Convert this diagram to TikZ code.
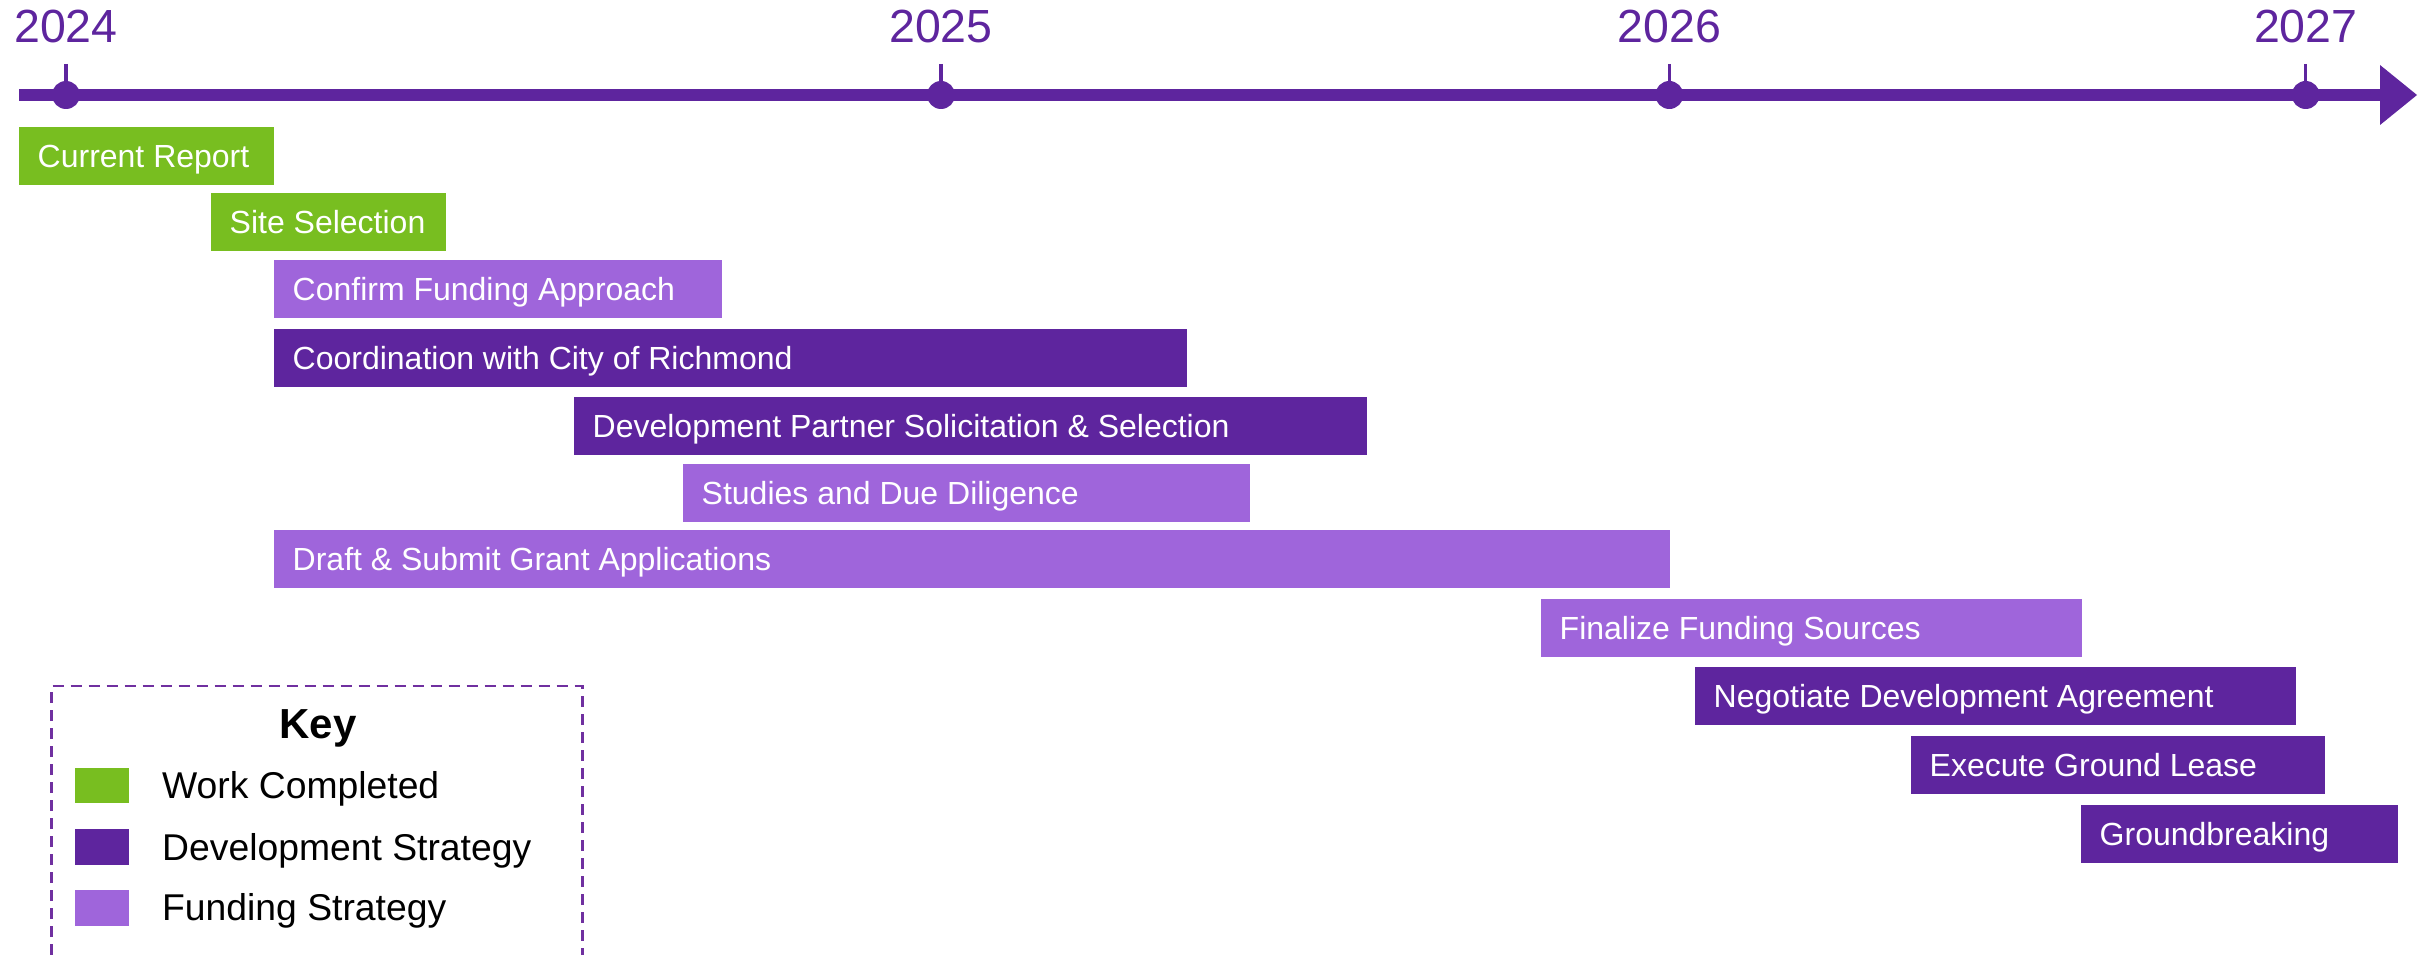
\documentclass[tikz,border=0pt]{standalone}
\usepackage{fontspec}
\setmainfont{Liberation Sans}
\definecolor{dpurple}{RGB}{94,37,158}
\definecolor{lpurple}{RGB}{159,101,219}
\definecolor{lgreen}{RGB}{120,190,32}
\definecolor{keyborder}{RGB}{112,48,160}
\newcommand\taskbar[6]{%
  \fill[#5] (#2,#3) rectangle (#4,#3+58);
  \node[bartext] (#1) at (#2+18.5,#3+29) {#6};
}
\newcommand\yearmark[2]{%
  \node[tdot] (d#1) at (#2,95) {};
  \coordinate (t#1) at (#2,64);
  \draw[dpurple, line width=3.5] (t#1) -- (d#1.center);
  \node[yearlbl] (y#1) at (#2,43) {#1};
}
\begin{document}
\begin{tikzpicture}[x=1pt,y=-1pt,
  bartext/.style={anchor=west, inner sep=0, text=white, font=\fontsize{32}{36}\selectfont, text height=23pt, text depth=0pt},
  tdot/.style={circle, fill=dpurple, minimum size=28pt, inner sep=0},
  yearlbl/.style={anchor=base, inner sep=0, text=dpurple, font=\fontsize{46.5}{52}\selectfont},
  keylbl/.style={anchor=base west, inner sep=0, text=black, font=\fontsize{37.3}{42}\selectfont}]
\useasboundingbox (0,0) rectangle (2428,955);
% timeline
\coordinate (tstart) at (19,95);
\coordinate (tneck) at (2381,95);
\coordinate (ttip) at (2417,95);
\draw[dpurple, line width=12] (tstart) -- (tneck);
\fill[dpurple] (2380,65) -- (ttip) -- (2380,125) -- cycle;
\yearmark{2024}{66}
\yearmark{2025}{941}
\yearmark{2026}{1669.3}
\yearmark{2027}{2305.7}
% bars
\taskbar{cur}{19}{127}{274}{lgreen}{Current Report}
\taskbar{site}{211}{193}{446}{lgreen}{Site Selection}
\taskbar{conf}{274}{260}{722}{lpurple}{Confirm Funding Approach}
\taskbar{coord}{274}{329}{1187}{dpurple}{Coordination with City of Richmond}
\taskbar{devp}{574}{397}{1367}{dpurple}{Development Partner Solicitation \& Selection}
\taskbar{stud}{683}{464}{1250}{lpurple}{Studies and Due Diligence}
\taskbar{draft}{274}{530}{1670}{lpurple}{Draft \& Submit Grant Applications}
\taskbar{fin}{1541}{599}{2082}{lpurple}{Finalize Funding Sources}
\taskbar{neg}{1695}{667}{2296}{dpurple}{Negotiate Development Agreement}
\taskbar{exe}{1911}{736}{2325}{dpurple}{Execute Ground Lease}
\taskbar{gb}{2081}{805}{2398}{dpurple}{Groundbreaking}
% key
\draw[keyborder, line width=2.2, dash pattern=on 11pt off 7pt] (51.5,955) -- (51.5,686) -- (582.5,686) -- (582.5,955);
\node[anchor=base, inner sep=0, font=\bfseries\fontsize{42}{48}\selectfont] (keytitle) at (318,738) {Key};
\fill[lgreen] (75,768) rectangle (129,803);
\fill[dpurple] (75,829) rectangle (129,865);
\fill[lpurple] (75,890) rectangle (129,926);
\node[keylbl] (kwork) at (162,798) {Work Completed};
\node[keylbl] (kdev) at (162,860) {Development Strategy};
\node[keylbl] (kfund) at (162,920) {Funding Strategy};
\end{tikzpicture}
\end{document}
